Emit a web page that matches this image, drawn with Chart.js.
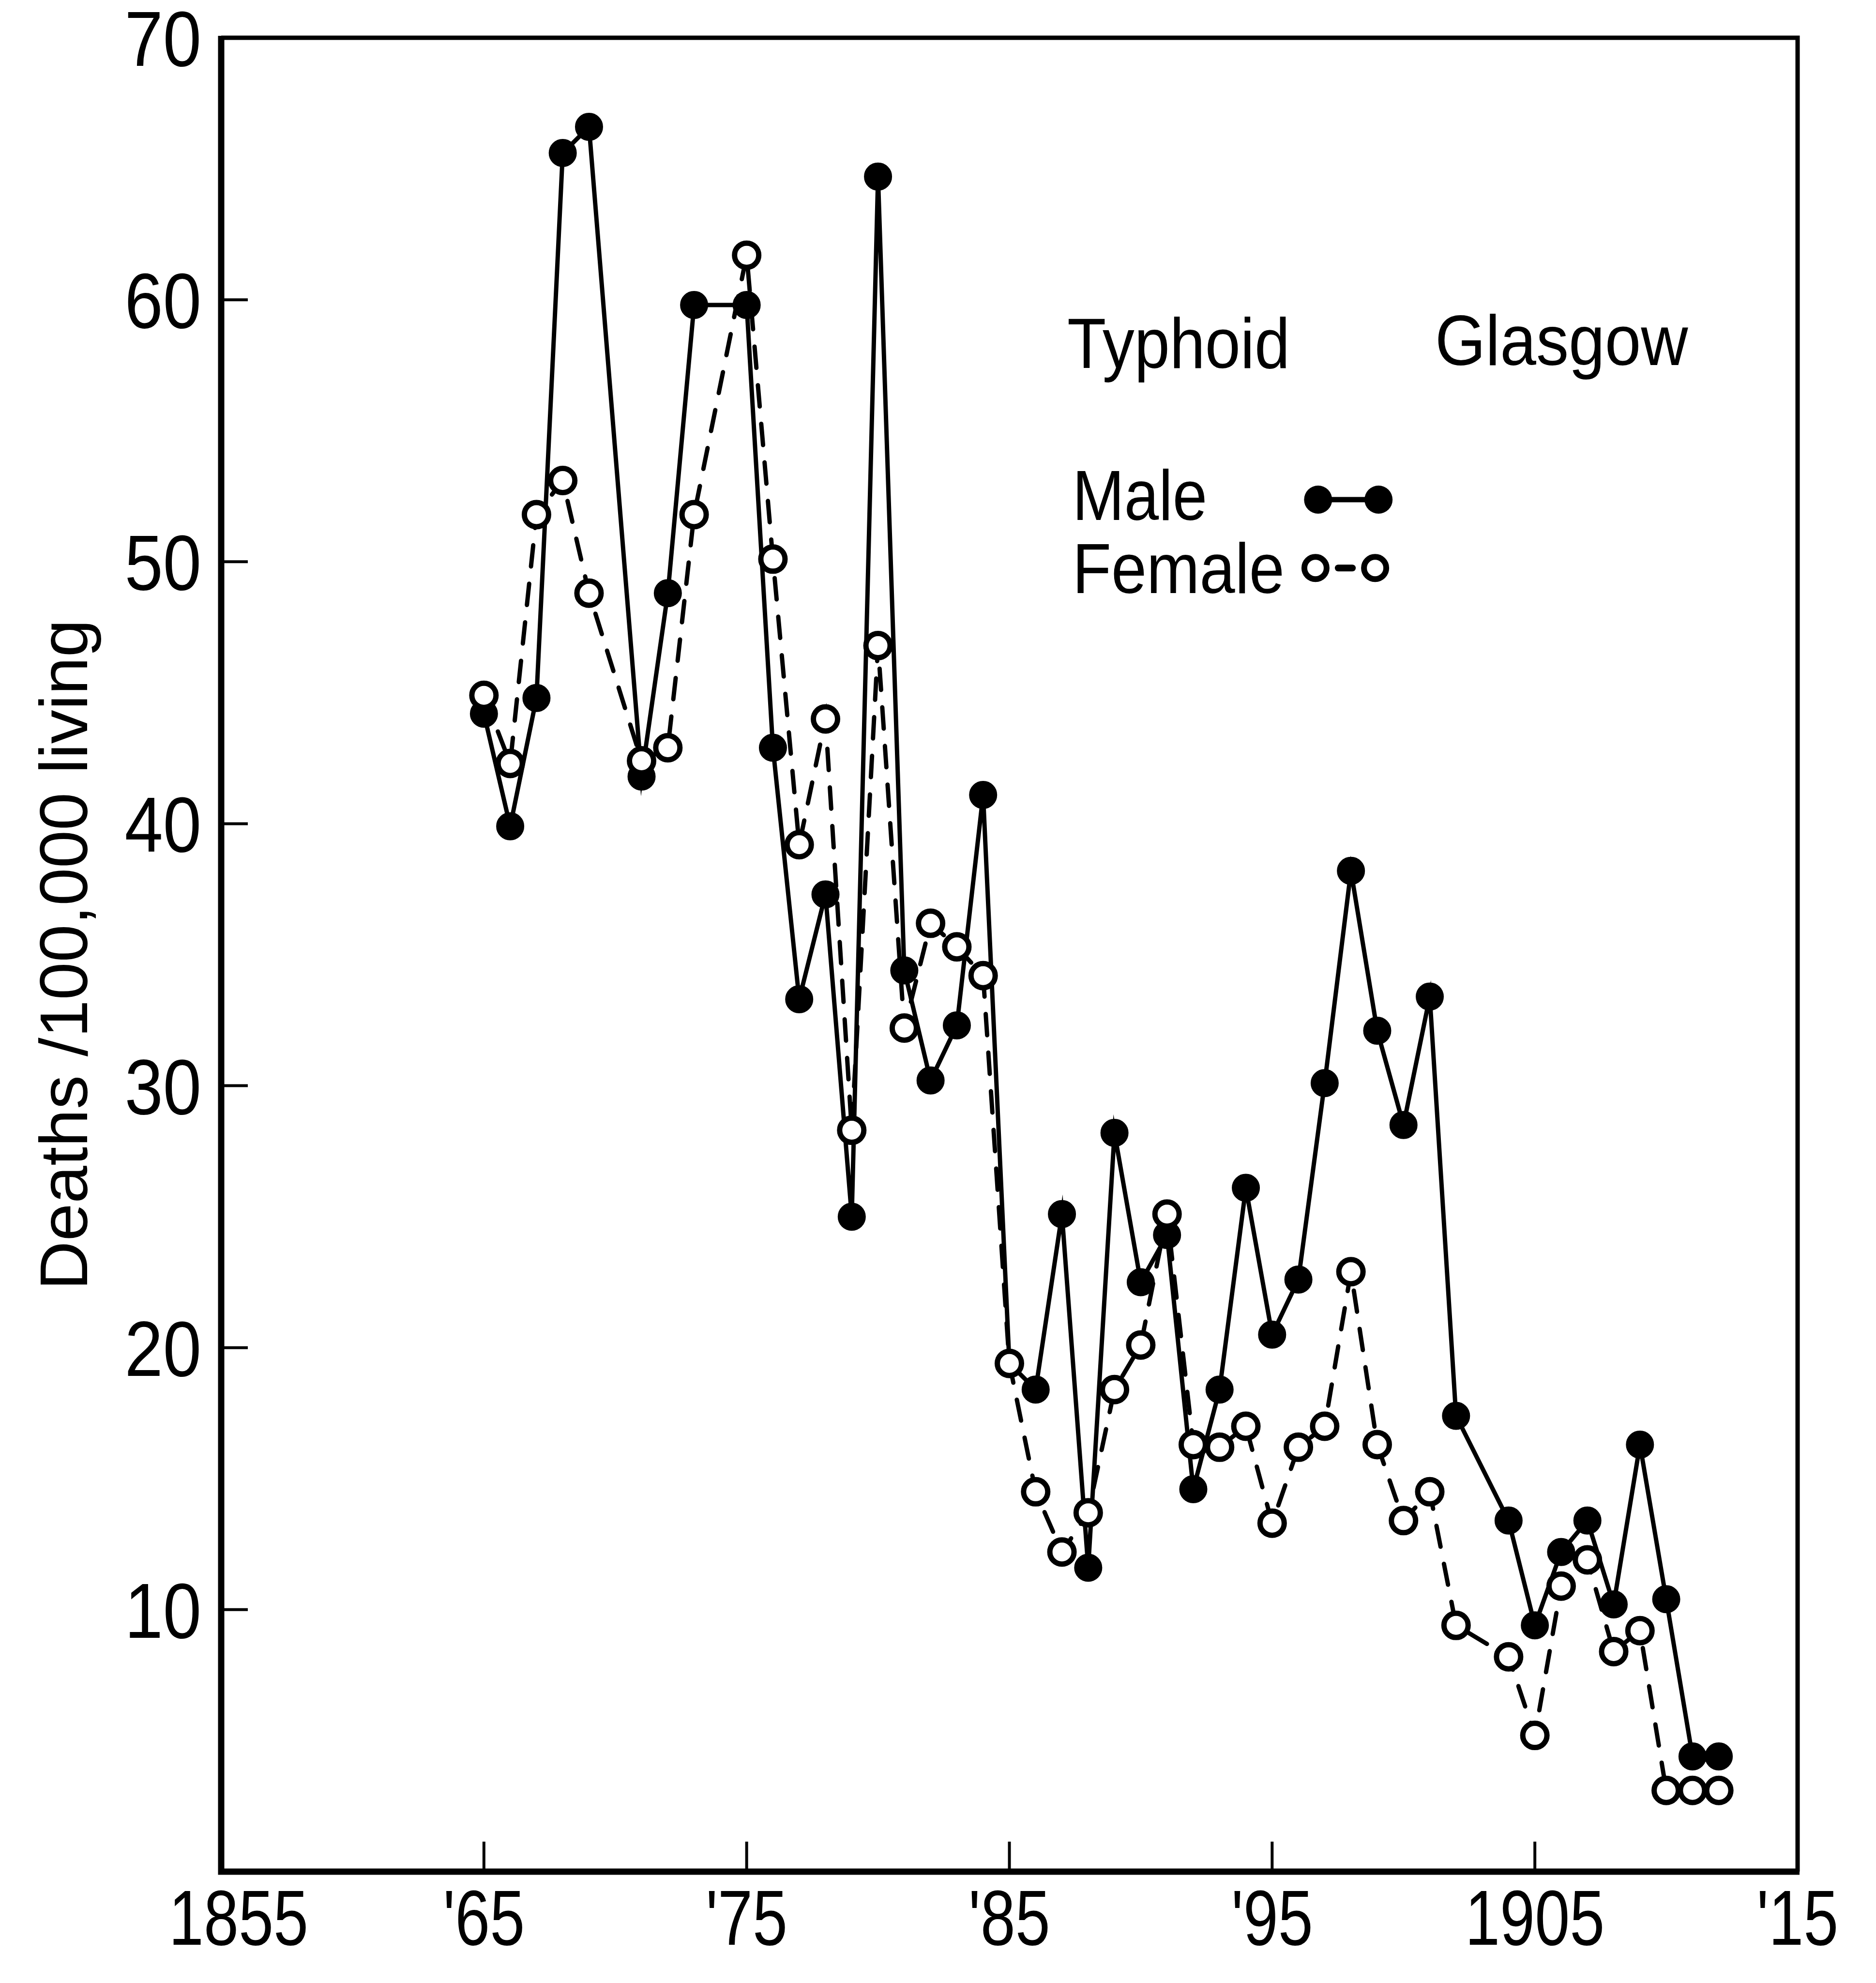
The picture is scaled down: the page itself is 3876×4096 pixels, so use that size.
<!DOCTYPE html>
<html>
<head>
<meta charset="utf-8">
<script src="https://cdn.jsdelivr.net/npm/chart.js@4.4.1/dist/chart.umd.min.js"></script>
<style>
html,body{margin:0;padding:0;background:#fff;}
#wrap{width:3876px;height:4096px;position:relative;background:#fff;}
</style>
</head>
<body>
<div id="wrap"><canvas id="c" width="3876" height="4096"></canvas></div>
<script>
// ---- data ----
const years = [1865,1866,1867,1868,1869,1870,1871,1872,1873,1874,1875,1876,1877,1878,1879,1880,
  1881,1882,1883,1884,1885,1886,1887,1888,1889,1890,1891,1892,1893,1894,1895,1896,1897,1898,1899,1900,
  1901,1902,1903,1904,1905,1906,1907,1908,1909,1910,1911,1912];
const maleRate = [44.2,39.9,44.8,65.6,66.6,null,41.8,48.8,59.8,null,59.8,42.9,33.3,37.3,25.0,64.7,
  34.4,30.2,32.3,41.1,19.4,18.4,25.1,11.6,28.2,22.5,24.3,14.6,18.4,26.1,20.5,22.6,30.1,38.2,32.1,28.5,
  33.4,17.4,null,13.4,9.4,12.2,13.4,10.2,16.3,10.4,4.4,4.4];
const femaleRate = [44.9,42.3,51.8,53.1,48.8,null,42.4,42.9,51.8,null,61.7,50.1,39.2,44.0,28.3,46.8,
  32.2,36.2,35.3,34.2,19.4,14.5,12.2,13.7,18.4,20.1,25.1,16.3,16.2,17.0,13.3,16.2,17.0,22.9,16.3,13.4,
  14.5,9.4,null,8.2,5.2,10.9,11.9,8.4,9.2,3.1,3.1,3.1];
const xTickValues = [1855,1865,1875,1885,1895,1905,1915];
const xTickLabels = ['1855',"'65","'75","'85","'95",'1905',"'15"];
const yTickValues = [10,20,30,40,50,60,70];
const yTickLabels = ['10','20','30','40','50','60','70'];
const yTitle = 'Deaths /100,000 living';
const titleWords = ['Typhoid','Glasgow'];
const seriesNames = ['Male','Female'];

const TEXT_FONT = '"Liberation Sans",Arial,sans-serif';

function pts(arr){
  const out = [];
  years.forEach((yr,i)=>{ if(arr[i]!==null) out.push({x:yr,y:arr[i]}); });
  return out;
}

function condensedText(ctx, text, x, y, sx, align){
  ctx.save();
  ctx.translate(x, y);
  ctx.scale(sx, 1);
  ctx.textAlign = align;
  ctx.fillText(text, 0, 0);
  ctx.restore();
}

const frameAndTicks = {
  id:'frameAndTicks',
  beforeDatasetsDraw(chart){
    const {ctx, chartArea:a, scales:{x,y}} = chart;
    ctx.save();
    ctx.strokeStyle = '#000';
    ctx.lineCap = 'butt';
    ctx.lineWidth = 6;
    yTickValues.forEach(v=>{
      const py = y.getPixelForValue(v);
      ctx.beginPath(); ctx.moveTo(a.left, py); ctx.lineTo(a.left+55, py); ctx.stroke();
    });
    xTickValues.forEach(v=>{
      const px = x.getPixelForValue(v);
      ctx.beginPath(); ctx.moveTo(px, a.bottom); ctx.lineTo(px, a.bottom-62); ctx.stroke();
    });
    ctx.lineJoin = 'miter';
    ctx.lineWidth = 9;
    ctx.beginPath(); ctx.moveTo(a.left, a.top); ctx.lineTo(a.right, a.top); ctx.lineTo(a.right, a.bottom); ctx.stroke();
    ctx.lineWidth = 13;
    ctx.beginPath(); ctx.moveTo(a.left, a.top-4); ctx.lineTo(a.left, a.bottom); ctx.lineTo(a.right+4, a.bottom); ctx.stroke();
    ctx.restore();
  },
  afterDraw(chart){
    const {ctx, chartArea:a, scales:{x,y}} = chart;
    ctx.save();
    ctx.fillStyle = '#000';
    ctx.textBaseline = 'alphabetic';
    ctx.font = '162px ' + TEXT_FONT;
    yTickValues.forEach((v,i)=>{
      condensedText(ctx, yTickLabels[i], a.left-41, y.getPixelForValue(v)+58, 0.88, 'right');
    });
    xTickValues.forEach((v,i)=>{
      const shift = i===0 ? 36 : 0;
      condensedText(ctx, xTickLabels[i], x.getPixelForValue(v)+shift, a.bottom+151, 0.8, 'center');
    });
    ctx.restore();
  }
};

const annotations = {
  id:'annotations',
  afterDatasetsDraw(chart){
    const {ctx, scales:{x,y}} = chart;
    ctx.save();
    ctx.fillStyle = '#000';
    ctx.strokeStyle = '#000';
    ctx.textBaseline = 'alphabetic';
    ctx.font = '146px ' + TEXT_FONT;
    condensedText(ctx, titleWords[0], x.getPixelForValue(1887.2), y.getPixelForValue(57.4), 0.9, 'left');
    condensedText(ctx, titleWords[1], x.getPixelForValue(1901.2), y.getPixelForValue(57.5), 0.92, 'left');
    condensedText(ctx, seriesNames[0], x.getPixelForValue(1887.4), y.getPixelForValue(51.6), 0.88, 'left');
    condensedText(ctx, seriesNames[1], x.getPixelForValue(1887.4), y.getPixelForValue(48.8), 0.9, 'left');
    // male key
    const my = y.getPixelForValue(52.37);
    const mx1 = x.getPixelForValue(1896.75), mx2 = x.getPixelForValue(1899.05);
    ctx.lineWidth = 11;
    ctx.beginPath(); ctx.moveTo(mx1,my); ctx.lineTo(mx2,my); ctx.stroke();
    [mx1,mx2].forEach(px=>{ ctx.beginPath(); ctx.arc(px,my,29,0,Math.PI*2); ctx.fill(); });
    // female key
    const fy = y.getPixelForValue(49.76);
    const fx1 = x.getPixelForValue(1896.65), fx2 = x.getPixelForValue(1898.92);
    ctx.lineWidth = 14;
    ctx.lineCap = 'round';
    ctx.beginPath(); ctx.moveTo(fx1+47,fy); ctx.lineTo(fx2-47,fy); ctx.stroke();
    ctx.lineWidth = 12;
    [fx1,fx2].forEach(px=>{ ctx.beginPath(); ctx.arc(px,fy,23,0,Math.PI*2); ctx.fillStyle='#fff'; ctx.fill(); ctx.stroke(); });
    ctx.restore();
  }
};

new Chart(document.getElementById('c'), {
  type:'line',
  data:{
    datasets:[
      {
        label:seriesNames[1], data:pts(femaleRate),
        borderColor:'#000', borderWidth:9, borderDash:[44,36], borderCapStyle:'round',
        pointStyle:'circle', pointRadius:25, pointBorderWidth:11,
        pointBackgroundColor:'#fff', pointBorderColor:'#000',
        spanGaps:true, tension:0, fill:false
      },
      {
        label:seriesNames[0], data:pts(maleRate),
        borderColor:'#000', borderWidth:9,
        pointStyle:'circle', pointRadius:26, pointBorderWidth:6,
        pointBackgroundColor:'#000', pointBorderColor:'#000',
        spanGaps:true, tension:0, fill:false
      }
    ]
  },
  options:{
    responsive:false, animation:false, devicePixelRatio:1,
    layout:{padding:{top:78,right:162,left:0,bottom:0}},
    plugins:{legend:{display:false}, tooltip:{enabled:false}, title:{display:false}},
    scales:{
      x:{
        type:'linear', min:1855, max:1915,
        afterBuildTicks(s){ s.ticks = xTickValues.map(v=>({value:v})); },
        afterFit(s){ s.height = 230; s.paddingLeft = 0; s.paddingRight = 0; },
        grid:{display:false, drawTicks:false},
        border:{display:false},
        ticks:{display:false}
      },
      y:{
        type:'linear', min:0, max:70,
        afterBuildTicks(s){ s.ticks = yTickValues.map(v=>({value:v})); },
        afterFit(s){ s.width = 457; s.paddingTop = 0; s.paddingBottom = 0; },
        grid:{display:false, drawTicks:false},
        border:{display:false},
        ticks:{display:false},
        title:{display:true, text:yTitle, color:'#000', font:{family:TEXT_FONT, size:140}, padding:{top:57, bottom:0}}
      }
    }
  },
  plugins:[frameAndTicks, annotations]
});
</script>
</body>
</html>
